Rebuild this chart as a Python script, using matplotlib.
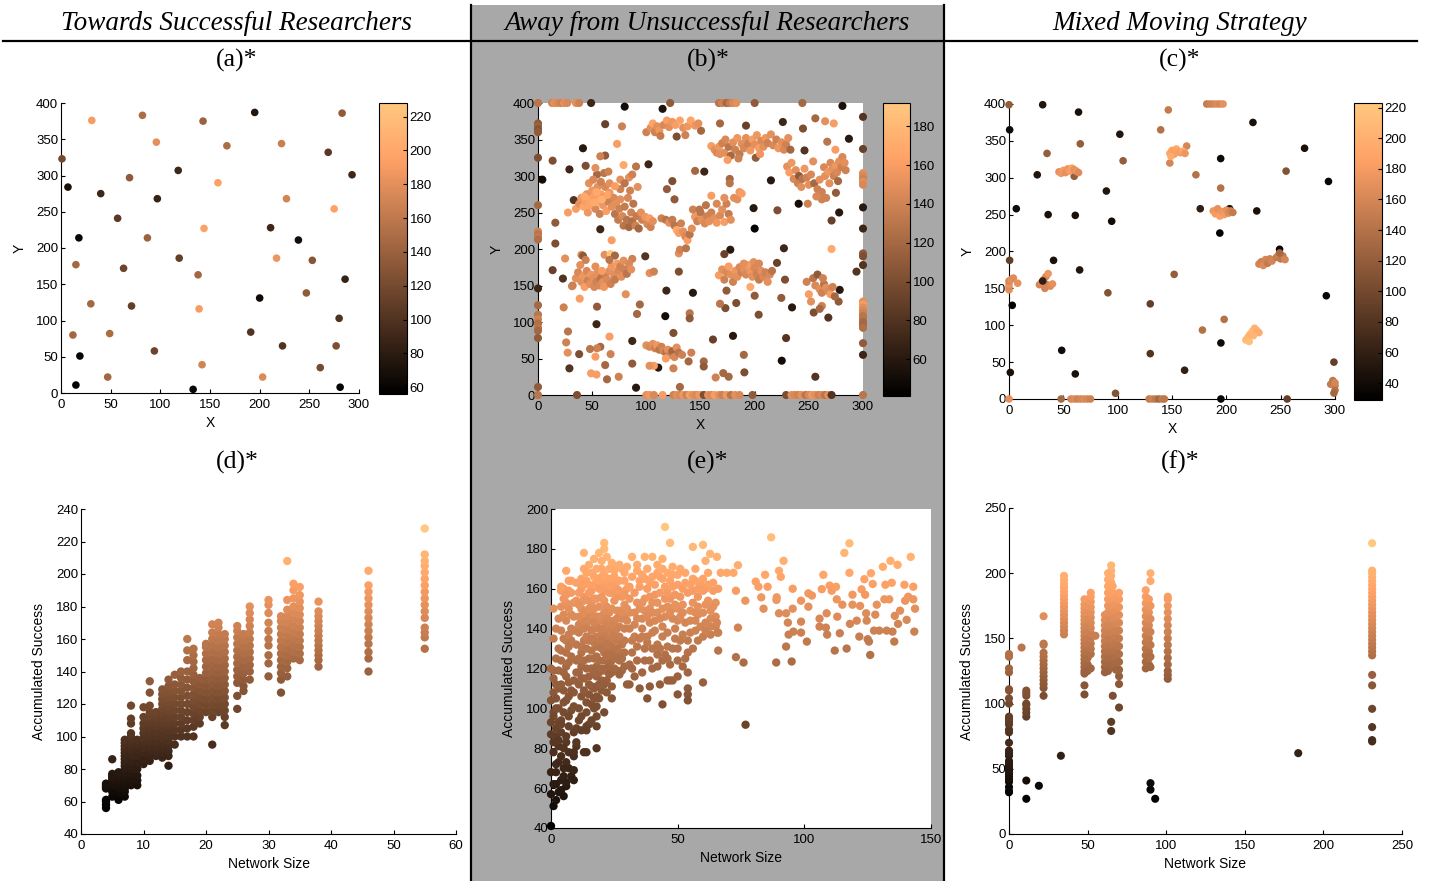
import matplotlib
matplotlib.use('Agg')
import matplotlib.pyplot as plt
from matplotlib.patches import Rectangle
from matplotlib.lines import Line2D

W, H = 1430, 881
GRAY = '#a8a8a8'

column_titles = ['Towards Successful Researchers',
                 'Away from Unsuccessful Researchers',
                 'Mixed Moving Strategy']
panel_titles = ['(a)*', '(b)*', '(c)*', '(d)*', '(e)*', '(f)*']

# ---------------- (a) positions: (x, y, accumulated success) ----------------
a_points = [(31, 376, 190), (82, 383, 150), (143, 375, 140), (195, 387, 75), (283, 386, 135),
            (96, 346, 180), (167, 341, 150), (222, 344, 165), (269, 332, 105), (1, 323, 120),
            (118, 307, 90), (293, 301, 90), (69, 297, 135), (158, 290, 195), (7, 284, 70),
            (40, 275, 90), (97, 268, 85), (227, 268, 170), (275, 254, 195), (57, 241, 105),
            (144, 227, 195), (211, 228, 90), (18, 214, 62), (87, 214, 140), (239, 211, 68),
            (119, 186, 110), (217, 186, 185), (15, 177, 145), (253, 183, 130), (63, 172, 115),
            (138, 163, 145), (286, 157, 85), (200, 131, 65), (247, 138, 135), (30, 123, 145),
            (71, 120, 110), (139, 116, 190), (280, 103, 100), (12, 80, 145), (49, 82, 150),
            (191, 84, 100), (19, 51, 62), (94, 58, 115), (223, 65, 100), (277, 65, 125),
            (142, 39, 170), (261, 35, 120), (47, 22, 145), (203, 22, 175), (15, 11, 60),
            (133, 5, 62), (281, 8, 60)]

# ---------------- (b) positions: (x, y, accumulated success) ----------------
b_left_edge = [(0, 400, 130), (0, 372, 110), (0, 368, 115), (0, 364, 105), (0, 360, 110),
               (0, 325, 100), (0, 260, 120), (0, 224, 140), (0, 220, 130), (0, 216, 135),
               (0, 213, 125), (0, 146, 70), (0, 123, 120), (0, 110, 130), (0, 104, 140),
               (0, 98, 125), (0, 92, 130), (0, 88, 120), (0, 78, 110), (0, 11, 110), (0, 0, 130)]
b_top_edge = [(13, 400, 140), (15, 400, 150), (18, 400, 145), (21, 400, 140), (24, 400, 150),
              (27, 400, 145), (35, 400, 150), (38, 400, 140), (49, 400, 70), (122, 400, 110),
              (167, 400, 130), (170, 400, 140), (174, 400, 120), (177, 400, 135), (180, 400, 145),
              (183, 400, 150), (200, 400, 110), (244, 400, 120), (80, 395, 50), (115, 392, 55),
              (281, 396, 55)]
b_right_edge = [(300, 381, 80), (300, 337, 90), (300, 304, 150), (300, 300, 145), (300, 296, 140),
                (300, 292, 150), (300, 288, 145), (300, 257, 60), (300, 228, 70), (300, 194, 110),
                (300, 190, 100), (300, 178, 80), (300, 128, 150), (300, 124, 160), (300, 120, 150),
                (300, 116, 145), (300, 112, 140), (300, 108, 130), (300, 104, 130), (300, 100, 120),
                (300, 96, 120), (300, 92, 125), (300, 71, 110), (300, 55, 70), (300, 0, 130)]
b_bottom_edge = [(36, 0, 100), (100, 0, 150), (103, 0, 155), (107, 0, 145), (115, 0, 160),
                 (125, 0, 140), (128, 0, 150), (131, 0, 145), (134, 0, 155), (137, 0, 140),
                 (140, 0, 160), (143, 0, 150), (146, 0, 145), (149, 0, 155), (153, 0, 100),
                 (157, 0, 150), (160, 0, 145), (163, 0, 160), (167, 0, 150), (170, 0, 140),
                 (174, 0, 155), (178, 0, 130), (182, 0, 150), (186, 0, 145), (198, 0, 110),
                 (229, 0, 100), (234, 0, 150), (237, 0, 145), (240, 0, 140), (243, 0, 150),
                 (247, 0, 130), (250, 0, 145), (253, 0, 155), (256, 0, 150), (259, 0, 140),
                 (262, 0, 145), (265, 0, 130), (268, 0, 150), (271, 0, 80)]
b_scattered = [(13.5, 321, 100), (4, 295, 50), (29, 309, 70), (41.5, 338, 60), (44, 314, 100),
               (62, 328, 110), (62, 371, 90), (73, 344, 160), (77.5, 368, 140), (90.5, 313, 130),
               (102, 316, 70), (124, 293, 100), (128, 354, 100), (126, 268, 110), (145, 307, 120),
               (153.5, 306, 70), (150.5, 362, 120), (168, 372, 120), (192, 369, 90), (226, 374, 70),
               (244.6, 365, 100), (246, 335, 80), (256, 379, 120), (265, 375, 150), (273, 372, 160),
               (267, 347, 130), (274.5, 336, 160), (287, 351, 60), (278, 250, 60), (271, 239, 90),
               (275, 277, 110), (240.6, 262, 50), (249, 262, 140), (215, 294, 60), (221, 253, 100),
               (199, 256, 60), (200, 228, 45), (177.5, 199, 60), (172, 193, 90), (227, 201, 70),
               (220.6, 181, 90), (271, 200, 170), (294, 169, 80), (278.5, 144, 60), (268, 106, 80),
               (277.5, 128, 110), (254.5, 113, 100), (234.5, 120, 60), (224.6, 133, 110),
               (228, 158, 100), (203.7, 110, 100), (200, 136, 110), (183, 126, 100), (173, 119, 100),
               (168, 125, 130), (174, 143, 110), (229, 78, 80), (225, 47, 50), (256, 25, 80),
               (180, 81, 60), (161.5, 76, 90), (190, 55, 120), (190.5, 31, 100), (171, 30, 120),
               (176, 25, 120), (164, 24, 140), (153, 46, 120), (153, 39, 110), (141.5, 58, 140),
               (139, 46, 120), (143, 140, 60), (140, 112, 130), (140, 105, 110), (130, 169, 100),
               (130, 194, 150), (131, 199, 140), (136.6, 201, 130), (118.5, 143, 70), (117.5, 108, 50),
               (125, 85, 100), (131, 11, 120), (111, 37.5, 60), (107, 40, 160), (125, 36.5, 140),
               (99, 190, 80), (103, 167, 150), (107, 169, 140), (94, 124, 120), (91.4, 111, 120),
               (87, 74, 70), (87, 43, 110), (90.5, 10, 60), (74.5, 25, 140), (63.7, 21.5, 120),
               (62, 41, 120), (67, 56, 140), (66, 80, 160), (57.5, 66, 120), (54.5, 64, 140),
               (53, 52.5, 160), (48, 63, 130), (49, 29.7, 160), (54, 28, 160), (38, 56, 100),
               (27.4, 58, 150), (26, 72, 140), (27.7, 87, 130), (29, 36.5, 80), (54.5, 121, 110),
               (54, 97, 70), (38.5, 132, 160), (23.7, 120, 140), (31.4, 149, 140), (23, 159.5, 80),
               (25, 187, 150), (13.5, 171, 90), (16, 236, 110), (16, 207.5, 100), (57.5, 227, 70),
               (68, 212, 160), (61.5, 192, 150), (67, 193, 190), (71, 191, 120), (40, 192, 150),
               (41.5, 190.6, 110), (81, 138, 150), (87, 186.5, 140), (27.7, 250, 160), (33, 267, 80),
               (57.5, 327, 140), (54.5, 302, 120), (53, 311, 150), (61, 304, 130), (79, 315, 170),
               (84, 298, 150), (87, 302, 140), (76, 295, 150), (65, 306, 140)]
b_cluster_upper_left = [(35, 255, 160), (38, 262, 150), (40, 270, 155), (42, 258, 165), (44, 265, 160),
                        (45, 275, 150), (46, 250, 155), (48, 268, 165), (50, 260, 150), (50, 280, 155),
                        (52, 272, 160), (53, 255, 145), (55, 285, 150), (56, 265, 165), (57, 248, 140),
                        (58, 275, 160), (60, 260, 155), (61, 270, 150), (62, 285, 145), (63, 252, 160),
                        (65, 265, 140), (66, 277, 155), (68, 258, 150), (70, 270, 145), (71, 248, 130),
                        (72, 262, 150), (74, 240, 135), (75, 255, 140), (76, 268, 150), (78, 245, 145),
                        (79, 232, 130), (80, 258, 135), (82, 240, 130), (83, 270, 145), (84, 230, 120),
                        (86, 250, 140), (87, 238, 125), (88, 262, 130), (90, 232, 140), (91, 245, 135),
                        (93, 228, 120), (95, 250, 150), (96, 240, 140), (99, 244, 155), (101, 234, 145),
                        (103, 242, 160), (104, 230, 140), (106, 238, 150), (47, 290, 150), (51, 295, 145),
                        (58, 292, 140), (66, 290, 150), (76, 282, 140), (80, 290, 130), (85, 280, 140),
                        (92, 285, 150), (71, 286, 160), (43, 272, 170), (47, 260, 165), (54, 278, 170),
                        (59, 268, 175), (64, 274, 165), (52, 264, 170)]
b_cluster_mid_left = [(32, 150, 140), (35, 160, 150), (37, 168, 145), (40, 155, 150), (42, 163, 155),
                      (43, 148, 160), (45, 170, 145), (46, 157, 140), (48, 152, 150), (49, 165, 155),
                      (51, 160, 150), (52, 148, 145), (54, 155, 140), (55, 168, 150), (57, 150, 145),
                      (58, 160, 130), (60, 155, 150), (61, 148, 155), (62, 164, 140), (64, 158, 145),
                      (66, 170, 150), (67, 152, 140), (68, 176, 155), (70, 165, 150), (71, 158, 135),
                      (73, 180, 160), (74, 170, 145), (76, 176, 140), (77, 162, 150), (79, 184, 150),
                      (80, 172, 140), (82, 166, 130), (84, 180, 145), (86, 172, 150), (39, 178, 150),
                      (44, 185, 140), (53, 176, 150), (59, 170, 160), (66, 185, 130)]
b_cluster_top = [(100, 360, 140), (104, 366, 150), (106, 372, 165), (108, 360, 140), (110, 368, 150),
                 (112, 362, 155), (116, 370, 145), (119, 376, 160), (121, 367, 150), (124, 374, 155),
                 (127, 370, 160), (131, 376, 165), (134, 366, 150), (138, 368, 155), (141, 376, 165),
                 (145, 369, 155), (148, 372, 150), (136, 356, 140), (113, 355, 135)]
b_cluster_arc = [(160, 341, 160), (163, 336, 150), (165, 332, 145), (167, 340, 155), (170, 345, 140),
                 (172, 332, 150), (173, 350, 145), (176, 340, 130), (178, 328, 120), (180, 346, 150),
                 (182, 336, 140), (184, 352, 155), (186, 330, 135), (188, 344, 150), (190, 338, 145),
                 (192, 352, 150), (194, 344, 140), (196, 335, 155), (198, 350, 160), (200, 343, 150),
                 (202, 356, 155), (204, 338, 160), (206, 348, 145), (208, 340, 150), (210, 352, 155),
                 (212, 345, 140), (215, 357, 150), (217, 342, 145), (220, 350, 140), (222, 338, 155),
                 (225, 346, 150), (227, 336, 145), (229, 343, 140), (231, 352, 150), (233, 336, 120),
                 (201, 325, 110), (205, 330, 155), (185, 324, 140), (175, 322, 160), (168, 330, 150)]
b_cluster_right = [(230, 313, 150), (232, 305, 160), (234, 318, 155), (236, 296, 145), (238, 308, 150),
                   (240, 290, 140), (241, 300, 110), (243, 285, 150), (244, 296, 130), (246, 310, 155),
                   (248, 298, 140), (250, 288, 150), (252, 302, 145), (254, 320, 150), (255, 290, 120),
                   (258, 282, 140), (260, 295, 150), (262, 278, 140), (264, 312, 145), (265, 300, 150),
                   (266, 270, 140), (268, 306, 155), (269, 290, 150), (270, 318, 145), (272, 310, 150),
                   (273, 300, 140), (275, 314, 155), (276, 305, 145), (277, 293, 120), (278, 320, 150),
                   (280, 312, 140), (281, 326, 145), (283, 318, 150), (284, 308, 140), (262, 268, 140),
                   (257, 272, 145)]
b_band = [(114, 242, 140), (118, 240, 130), (121, 236, 150), (124, 240, 135), (126, 232, 130),
          (128, 226, 170), (130, 222, 160), (132, 235, 140), (134, 224, 150), (136, 217, 145),
          (138, 212, 160), (140, 220, 130), (142, 228, 150), (145, 244, 155), (147, 238, 140),
          (150, 250, 130), (151, 240, 150), (154, 235, 145), (156, 245, 140), (158, 238, 150),
          (160, 250, 140), (163, 242, 150), (165, 236, 155), (168, 246, 145), (170, 254, 150),
          (172, 237, 160), (174, 262, 140), (176, 248, 135), (178, 240, 150), (181, 270, 150),
          (184, 268, 150), (186, 278, 155), (188, 276, 160), (155, 260, 130), (160, 273, 160),
          (165, 262, 145), (172, 270, 150), (177, 296, 120), (177, 290, 130), (143, 254, 140),
          (149, 254, 130), (119, 282, 110)]
b_cluster_mid_right = [(167, 164, 160), (170, 172, 150), (172, 158, 140), (174, 168, 145), (176, 176, 160),
                       (178, 165, 150), (180, 155, 140), (182, 170, 155), (184, 162, 150), (186, 175, 145),
                       (188, 168, 140), (190, 172, 150), (192, 165, 145), (194, 178, 160), (196, 170, 155),
                       (198, 162, 150), (199, 182, 150), (200, 174, 145), (202, 166, 140), (204, 158, 135),
                       (206, 170, 150), (208, 162, 145), (210, 168, 140), (212, 155, 150), (214, 165, 145),
                       (216, 170, 130), (196, 148, 170), (190, 180, 150), (204, 180, 145)]
b_cluster_low_right = [(248, 155, 140), (250, 138, 160), (252, 128, 150), (254, 160, 130), (256, 150, 145),
                       (258, 165, 110), (260, 145, 150), (262, 140, 140), (264, 152, 130), (266, 147, 150),
                       (268, 142, 145), (270, 138, 160), (272, 148, 140), (274, 135, 120), (263, 160, 140),
                       (262, 122, 140), (260, 118, 120)]
b_cluster_bottom = [(100, 68, 150), (103, 66, 145), (106, 70, 150), (108, 64, 140), (110, 68, 155),
                    (112, 62, 130), (114, 66, 140), (116, 60, 145), (118, 58, 130), (120, 62, 150),
                    (122, 55, 140), (124, 60, 120), (126, 52, 145), (128, 65, 150), (130, 58, 130),
                    (133, 55, 140), (118, 50, 160), (103, 40, 150)]

# ---------------- (c) positions: (x, y, accumulated success) ----------------
c_singles = [(0.6, 365, 40), (31, 399, 50), (64, 389, 45), (146.6, 392, 150), (139.6, 365, 140),
             (102, 359, 50), (35, 333, 120), (65.6, 346, 120), (105, 323, 120), (163.5, 343, 160),
             (148, 320, 160), (194.8, 326, 40), (224.5, 375, 45), (272, 340, 45), (255, 309, 110),
             (294, 295, 35), (172, 304, 140), (26, 304, 50), (60, 302, 120), (89.6, 282, 50),
             (194.8, 286, 140), (6.7, 258, 40), (36, 250, 45), (61, 249, 45), (94.5, 241, 40),
             (176, 258, 60), (228, 255, 45), (194, 225, 30), (0.6, 188, 90), (41, 188, 45),
             (65, 175, 50), (152, 169, 120), (249, 203, 35), (91, 144, 110), (3, 127, 30),
             (130, 129, 90), (292, 140, 35), (198, 108, 140), (178, 93.5, 140), (195, 76, 40),
             (48.5, 66, 40), (130, 61.5, 80), (1.2, 36, 45), (61, 34, 45), (161.6, 39, 60),
             (98, 7.7, 110)]
c_clusters = [(148, 333, 190), (150, 337, 185), (152, 332, 180), (154, 339, 190), (156, 335, 185),
              (158, 334, 180), (160, 336, 190), (162, 333, 175), (149, 329, 195),
              (46, 308, 170), (48, 306, 175), (50, 310, 180), (52, 307, 170), (54, 312, 175),
              (56, 309, 180), (58, 313, 185), (60, 311, 170), (62, 309, 175), (64, 307, 165),
              (203, 258, 45), (188, 255, 175), (190, 251, 180), (192, 258, 170), (194, 248, 185),
              (196, 254, 175), (198, 250, 180), (200, 256, 170), (202, 252, 165), (204, 255, 160),
              (206, 253, 150), (230, 183, 160), (232, 186, 155), (234, 181, 165), (236, 189, 160),
              (238, 184, 150), (240, 190, 155), (242, 187, 160), (246, 192, 150), (248, 195, 155),
              (250, 190, 145), (252, 194, 150), (254, 189, 160), (249, 198, 130),
              (0, 148, 170), (0, 152, 165), (0, 156, 175), (0, 160, 160), (2, 162, 170),
              (4, 164, 165), (8, 157, 170), (28, 155, 160), (30, 158, 165), (32, 162, 170),
              (34, 166, 160), (36, 170, 175), (35, 155, 155), (38, 153, 165), (33, 150, 160),
              (40, 156, 170), (31, 160, 60), (218, 80, 210), (220, 84, 205), (222, 88, 200),
              (224, 92, 210), (226, 96, 205), (228, 93, 200), (230, 90, 195), (221, 78, 215),
              (225, 86, 205)]
c_edges = [(0, 0, 170), (48, 0, 130), (57, 0, 160), (60, 0, 165), (63, 0, 155), (66, 0, 160),
           (69, 0, 165), (72, 0, 160), (75, 0, 155), (129, 0, 150), (132, 0, 155), (135, 0, 145),
           (138, 0, 130), (141, 0, 150), (143, 0, 145), (195, 0, 35), (256, 0, 90),
           (0, 399, 120), (182, 400, 150), (185, 400, 155), (188, 400, 160), (191, 400, 165),
           (194, 400, 160), (197, 400, 170), (299, 50, 90), (296, 20, 150), (298, 25, 145),
           (300, 18, 155), (300, 12, 140), (299, 8, 130), (300, 22, 160)]

# ---------------- (d) network size vs accumulated success ----------------
d_sizes = [4, 5, 6, 7, 8, 9, 10, 11, 12, 13, 14, 15, 16, 17, 18, 19, 20, 21, 22, 23,
           25, 26, 27, 30, 32, 33, 34, 35, 38, 46, 55]
d_success = [
    [56, 58, 60, 61, 68, 69, 70, 71],
    [63, 66, 70, 72, 74, 75, 76, 77, 86],
    [61, 65, 68, 70, 72, 74, 76, 78],
    [63, 66, 68, 70, 72, 74, 76, 78, 80, 82, 84, 86, 88, 90, 92, 94, 96, 98],
    [70, 72, 74, 77, 80, 82, 85, 88, 90, 92, 94, 96, 98, 100, 102, 108, 111, 119],
    [70, 73, 76, 80, 84, 88, 92, 95, 98],
    [83, 86, 90, 93, 96, 99, 102, 105, 108, 112, 118],
    [85, 88, 91, 94, 97, 100, 103, 106, 109, 112, 115, 119, 127, 134],
    [88, 91, 94, 97, 100, 103, 106, 109, 112, 115],
    [87, 90, 93, 96, 99, 102, 105, 108, 111, 114, 117, 120, 123, 126, 129],
    [82, 88, 91, 94, 97, 100, 103, 106, 109, 112, 115, 118, 121, 124, 127, 131, 135],
    [95, 100, 104, 108, 112, 116, 120, 124, 128, 132, 138],
    [100, 104, 108, 112, 116, 120, 124, 128, 132, 136, 140],
    [100, 105, 110, 115, 120, 125, 130, 135, 140, 147, 153, 160],
    [100, 106, 110, 114, 118, 122, 126, 130, 134, 138, 142, 146, 150, 154],
    [108, 112, 116, 120, 124, 128, 132, 136],
    [115, 119, 123, 127, 131, 135, 139, 143, 147, 151, 155, 157],
    [95, 112, 116, 120, 124, 128, 132, 136, 140, 144, 148, 152, 156, 160, 164, 169],
    [115, 119, 123, 127, 131, 135, 139, 143, 147, 151, 155, 159, 163, 167, 170],
    [107, 112, 116, 120, 124, 128, 132, 136, 140, 144, 148, 152, 156, 160, 163],
    [117, 125, 133, 137, 141, 145, 149, 153, 157, 161, 165, 168],
    [128, 131, 135, 139, 143, 147, 151, 155, 159, 163],
    [135, 140, 144, 148, 152, 156, 160, 164, 168, 172, 176, 180],
    [137, 145, 150, 156, 160, 165, 170, 176, 181, 184],
    [127, 135, 139, 143, 147, 151, 155, 159, 163, 167, 171, 174],
    [137, 142, 146, 150, 154, 158, 162, 166, 170, 174, 178, 184, 208],
    [148, 152, 156, 160, 164, 168, 172, 176, 180, 185, 190, 194],
    [147, 151, 155, 159, 163, 167, 171, 175, 179, 183, 187, 192],
    [143, 147, 150, 153, 156, 159, 162, 165, 168, 171, 174, 177, 183],
    [140, 148, 152, 157, 161, 165, 169, 173, 177, 181, 185, 189, 193, 202],
    [154, 161, 164, 167, 173, 177, 181, 185, 189, 193, 197, 201, 205, 208, 212, 228],
]

# ---------------- (e) network size vs accumulated success: (size, success) ----------------
e_small = [(0, 41), (1, 51), (2, 54), (0, 57), (3, 58), (2, 62), (0, 68), (2, 68), (4, 64), (3, 73),
           (1, 78), (3, 81), (2, 86), (4, 88), (0, 87), (3, 93), (4, 94), (1, 98), (3, 100), (1, 108),
           (3, 110), (1, 115), (3, 119), (1, 119), (1, 150), (5, 56), (6, 61), (8, 66), (9, 69),
           (7, 70), (6, 73), (7, 78), (6, 83), (9, 88), (10, 81), (9, 76), (7, 91), (5, 98), (8, 99),
           (6, 104), (8, 109), (6, 116), (9, 114), (6, 121), (8, 126), (4, 129), (6, 134), (4, 139),
           (8, 140), (6, 144), (8, 147), (4, 151), (9, 153), (4, 159), (8, 158), (6, 169), (10, 163),
           (5, 160), (9, 101), (10, 90), (10, 83), (9, 108), (10, 118), (10, 124), (10, 132),
           (9, 146), (10, 139), (9, 78), (9, 64), (6, 63), (4, 59), (8, 164), (4, 161), (7, 159),
           (9, 139), (8, 134), (10, 154), (2, 125), (1, 96), (2, 105), (3, 84), (5, 109), (7, 96),
           (1, 62), (2, 72), (1, 83), (2, 90), (0, 93), (2, 100), (0, 104), (2, 112), (0, 120),
           (3, 130), (1, 135), (2, 140), (3, 145), (5, 66), (5, 70), (4, 76), (5, 80), (6, 86),
           (4, 92), (5, 103), (7, 106), (4, 112), (7, 113), (5, 118), (7, 123), (4, 124), (6, 128),
           (7, 131), (5, 135), (7, 137), (5, 147), (7, 150), (6, 153), (5, 155), (6, 157), (7, 164)]
e_core = [(12, 89), (13, 78), (14, 91), (14, 98), (14, 103), (12, 106), (12, 121), (12, 128), (13, 134),
          (11, 138), (14, 141), (12, 144), (14, 148), (12, 150), (15, 154), (13, 156), (14, 168),
          (16, 168), (18, 165), (18, 170), (20, 174), (21, 183), (21, 180), (23, 170), (25, 169),
          (18, 146), (18, 141), (18, 136), (18, 131), (18, 126), (18, 121), (18, 116), (18, 111),
          (18, 106), (18, 101), (18, 96), (18, 91), (18, 80), (15, 92), (14, 89), (14, 78), (21, 159),
          (23, 158), (21, 154), (22, 151), (25, 154), (26, 149), (23, 148), (21, 148), (20, 144),
          (23, 144), (25, 144), (27, 141), (22, 139), (25, 138), (20, 137), (23, 134), (26, 134),
          (28, 132), (21, 131), (23, 129), (27, 128), (21, 124), (24, 124), (27, 124), (21, 119),
          (24, 118), (22, 114), (24, 111), (22, 108), (24, 105), (21, 98), (26, 119), (28, 119),
          (29, 128), (29, 134), (29, 140), (29, 146), (27, 149), (28, 156), (26, 156), (25, 163),
          (22, 163), (20, 161), (16, 159), (16, 153), (16, 148), (16, 144), (16, 139), (15, 134),
          (16, 129), (15, 125), (16, 120), (15, 116), (16, 111), (15, 107), (16, 102), (16, 94),
          (20, 166), (19, 151), (29, 164), (30, 160), (27, 164), (26, 171), (13, 148), (13, 154),
          (19, 131), (19, 124), (19, 118), (20, 109), (13, 178), (14, 164), (17, 150), (19, 140),
          (21, 128), (24, 131), (26, 140), (20, 156), (17, 162), (24, 150), (22, 145), (18, 155),
          (25, 160), (27, 136), (17, 133), (23, 122), (20, 114), (17, 118),
          (11, 94), (11, 100), (12, 96), (11, 112), (13, 115), (11, 118), (13, 124), (12, 131),
          (11, 142), (13, 140), (12, 160), (11, 152), (14, 130), (15, 145), (17, 140), (17, 146),
          (17, 125), (17, 110), (17, 100), (19, 105), (20, 120), (20, 130), (22, 126), (22, 120),
          (21, 136), (23, 140), (24, 136), (25, 128), (26, 130), (27, 146), (28, 145), (24, 158),
          (26, 160), (23, 165), (19, 160), (17, 155), (15, 162), (20, 170), (28, 170),
          (12, 165), (13, 170), (15, 172), (17, 175), (19, 178), (22, 176), (24, 173), (27, 172),
          (29, 168), (11, 158), (13, 162), (15, 158), (17, 166), (19, 164), (21, 167), (23, 161),
          (25, 166), (27, 159), (29, 152), (28, 148), (26, 145), (24, 142), (22, 142), (20, 140),
          (19, 146), (17, 143), (15, 150), (13, 144), (11, 146), (14, 136), (16, 135), (20, 134),
          (22, 132), (24, 127), (26, 125), (28, 125), (29, 121), (27, 117), (25, 120), (23, 117),
          (21, 112), (19, 112), (17, 105), (15, 112), (13, 109), (11, 125), (14, 120), (12, 115)]
e_mid = [(32, 176), (30, 171), (37, 176), (40, 176), (44, 175), (45, 191), (47, 183), (56, 181),
         (60, 182), (48, 171), (51, 170), (38, 170), (34, 169), (42, 168), (43, 166), (32, 166),
         (31, 161), (29, 157), (35, 161), (38, 160), (41, 162), (41, 157), (44, 165), (45, 161),
         (47, 164), (48, 161), (50, 162), (52, 160), (54, 158), (56, 159), (58, 156), (60, 159),
         (62, 154), (64, 159), (65, 153), (47, 155), (46, 151), (50, 150), (52, 148), (55, 149),
         (58, 147), (60, 148), (63, 149), (65, 146), (42, 148), (39, 150), (37, 149), (34, 153),
         (31, 148), (30, 144), (33, 142), (36, 140), (39, 143), (41, 139), (44, 141), (46, 138),
         (49, 140), (52, 137), (55, 138), (58, 134), (60, 136), (63, 141), (66, 138), (54, 134),
         (54, 128), (50, 130), (46, 131), (42, 132), (38, 133), (34, 131), (32, 134), (31, 122),
         (34, 124), (37, 124), (39, 124), (42, 121), (44, 124), (47, 122), (50, 124), (52, 121),
         (54, 118), (47, 114), (48, 114), (46, 114), (31, 112), (30, 112), (35, 110), (38, 105),
         (39, 111), (43, 112), (44, 102), (50, 107), (54, 110), (54, 107), (54, 104), (60, 113),
         (50, 116), (43, 130), (38, 136), (66, 129), (60, 165), (62, 168), (64, 163), (66, 160),
         (35, 164), (33, 158), (53, 168), (57, 170), (61, 174), (46, 168), (49, 157), (36, 145),
         (40, 138), (45, 146), (57, 144), (61, 152), (63, 145),
         (30, 150), (31, 140), (32, 128), (33, 136), (35, 135), (37, 130), (40, 130), (35, 150),
         (37, 155), (39, 156), (42, 153), (44, 150), (48, 145), (50, 144), (52, 152), (56, 153),
         (58, 151), (59, 162), (61, 160), (56, 165), (50, 167), (44, 170), (40, 166), (36, 167),
         (49, 135), (57, 139), (61, 143), (63, 137), (53, 125), (45, 127), (40, 120), (36, 118),
         (33, 116), (32, 120),
         (31, 155), (33, 148), (34, 145), (36, 153), (38, 146), (40, 148), (41, 144), (43, 145),
         (45, 155), (46, 158), (48, 150), (49, 152), (51, 146), (53, 143), (55, 144), (57, 148),
         (59, 141), (61, 139), (65, 141), (64, 151), (62, 162), (58, 160), (55, 162), (51, 156),
         (47, 148), (43, 158), (39, 163), (37, 165), (34, 172), (42, 172), (48, 167), (53, 163),
         (57, 164), (40, 153), (36, 136), (42, 127), (46, 125), (51, 134), (56, 130), (44, 136),
         (48, 130)]
e_large = [(67, 168), (69.4, 168), (72, 168), (73.8, 171.8), (65.5, 176), (62.8, 177.5), (73, 159),
           (76.7, 154), (65.5, 143), (73.8, 140.5), (65.7, 138), (73, 125.7), (76, 123), (76.8, 91.8),
           (80.8, 163.6), (81.9, 161), (83, 155.7), (83.9, 150), (84.5, 167), (85.5, 161), (86.9, 185.8),
           (88.9, 123), (89, 154.4), (89.1, 155.7), (90, 147.7), (90.7, 166), (91.8, 174), (90, 169),
           (92.8, 147.7), (92.8, 131), (93.5, 143), (93.8, 137), (95, 123.5), (95.4, 160), (95.4, 150),
           (95.7, 138.5), (98.7, 138), (98.7, 143.5), (98.7, 154), (101, 133.5), (101.6, 151),
           (101.6, 157.7), (103, 156.6), (106.9, 159.8), (106, 145), (106, 141), (107.5, 167),
           (108.5, 140.5), (108.8, 147.7), (109, 137), (110, 161.6), (110.8, 159), (112, 129),
           (112.5, 161), (112.8, 154.7), (113, 146), (114, 137.7), (115, 152), (115.8, 178),
           (116.7, 130), (117.8, 182.8), (117.8, 168), (118, 142.4), (119, 157), (119, 152),
           (120.7, 144), (121.7, 136), (122, 151.4), (122.6, 159.7), (123.7, 164.8), (124, 157),
           (124.4, 147.7), (124.6, 144), (125, 134.7), (125.5, 133.5), (126, 126.8), (126.3, 167.8),
           (127, 162.4), (127.5, 139), (128, 147), (128.6, 152), (129.6, 139), (131, 171),
           (131.6, 154.7), (132, 162), (132.5, 139), (133.5, 154.7), (134, 174), (134.5, 163),
           (134.8, 138.5), (135.5, 133.5), (135.7, 146.4), (136.8, 172), (137, 142.4), (137.8, 149),
           (139.5, 162), (139.8, 154), (140.4, 144.4), (141, 156), (142, 176), (143, 161),
           (143.4, 138.5), (143.7, 150), (143, 154.7)]

# ---------------- (f) network size vs accumulated success ----------------
f_sizes = [0, 8, 11, 19, 22, 33, 35, 48, 50, 52, 55, 61, 63, 65, 66, 68, 70, 87, 89, 90, 93, 101, 184, 231]
f_success = [
    [32, 33, 36, 40, 42, 44, 46, 48, 50, 52, 54, 56, 60, 62, 64, 70, 78, 80, 84, 86, 88, 90,
     100, 104, 110, 111, 124, 127, 136, 138],
    [143],
    [27, 41, 90, 93, 96, 99, 100, 106, 108, 110],
    [37],
    [106, 112, 115, 118, 121, 124, 127, 130, 133, 136, 139, 145, 146, 167],
    [60],
    [153, 156, 159, 162, 165, 168, 171, 174, 177, 180, 183, 186, 189, 192, 195, 198],
    [107, 114, 123, 125, 128, 131, 134, 137, 140, 143, 146, 149, 152, 155, 158, 161, 164, 167,
     170, 173, 176, 180],
    [125, 130, 135, 140, 145, 150, 155, 160, 165, 170, 175],
    [127, 138, 142, 146, 150, 154, 158, 162, 166, 170, 174, 178, 182, 185],
    [152],
    [124, 128, 132, 136, 140, 144, 148, 152, 156, 160, 164, 168],
    [125, 130, 135, 140, 145, 150, 155, 160, 165, 170, 175, 180, 185, 190, 195, 200],
    [79, 86, 128, 133, 138, 143, 148, 153, 158, 163, 168, 173, 178, 183, 188, 193, 198, 202, 206],
    [106, 130, 135, 140, 145, 150, 155, 160, 165, 170, 175, 180, 185, 190],
    [126, 131, 136, 141, 146, 151, 156, 161, 166, 171, 176, 181],
    [97, 115, 121, 126, 132, 138, 144, 150, 156, 162, 168, 174, 180, 185],
    [127, 132, 137, 142, 147, 152, 157, 162, 167, 172, 177, 182, 187],
    [130, 135, 140, 145, 150, 155, 160, 165, 170, 175, 180],
    [34, 39, 128, 136, 145, 155, 165, 175, 194, 200],
    [27],
    [119, 122, 125, 130, 135, 140, 145, 150, 155, 160, 165, 170, 175, 180, 182],
    [62],
    [71, 72, 82, 96, 114, 122, 137, 140, 143, 146, 149, 152, 155, 158, 161, 164, 167, 170, 173,
     176, 179, 182, 185, 188, 191, 194, 197, 200, 202, 223],
]

# colour limits of the three colorbars
clim_towards = (56, 228)
clim_away = (41, 192)
clim_mixed = (29, 223)

plt.rcParams['font.family'] = ['Liberation Sans', 'DejaVu Sans']
SERIF = ['Liberation Serif', 'DejaVu Serif']

fig = plt.figure(figsize=(W / 100, H / 100), dpi=100)
fig.patch.set_facecolor('white')


def rect(left, top, right, bottom):
    return [left / W, 1 - bottom / H, (right - left) / W, (bottom - top) / H]


def fx(x):
    return x / W


def fy(y):
    return 1 - y / H


# background of middle column and separating lines
fig.add_artist(Rectangle((fx(471), 0), fx(944) - fx(471), fy(5), transform=fig.transFigure,
                         facecolor=GRAY, edgecolor='none', zorder=-10))
fig.add_artist(Line2D([fx(3), fx(1417)], [fy(41), fy(41)], color='black', lw=1.6))
for xv in (471, 944):
    fig.add_artist(Line2D([fx(xv), fx(xv)], [0, fy(5)], color='black', lw=1.6))

for title, xc in zip(column_titles, (236, 707, 1180)):
    fig.text(fx(xc), fy(29.5), title, ha='center', va='baseline', fontsize=19.5,
             style='italic', family=SERIF)


def unpack(*groups):
    pts = [p for g in groups for p in g]
    return [p[0] for p in pts], [p[1] for p in pts], [p[2] for p in pts]


def columns(sizes, success):
    xs, ys = [], []
    for s, vals in zip(sizes, success):
        xs += [s] * len(vals)
        ys += vals
    return xs, ys


def style(ax, xlim, ylim, xticks, yticks, xlabel, ylabel, white=False):
    ax.set_xlim(*xlim)
    ax.set_ylim(*ylim)
    ax.set_xticks(xticks)
    ax.set_yticks(yticks)
    ax.spines['top'].set_visible(False)
    ax.spines['right'].set_visible(False)
    for sp in ('left', 'bottom'):
        ax.spines[sp].set_linewidth(0.8)
        ax.spines[sp].set_zorder(2)
    ax.tick_params(direction='in', length=3, width=0.8, labelsize=9.5)
    ax.tick_params(axis='x', pad=4)
    ax.tick_params(axis='y', pad=2)
    ax.set_xlabel(xlabel, fontsize=10, labelpad=4)
    ax.set_ylabel(ylabel, fontsize=10, labelpad=7)
    ax.set_facecolor('white' if white else 'none')


def colorbar(sc, box, ticks):
    cax = fig.add_axes(rect(*box))
    cb = fig.colorbar(sc, cax=cax, ticks=ticks)
    cb.outline.set_linewidth(0.8)
    cax.tick_params(direction='in', length=3, width=0.8, labelsize=9.5, pad=2)
    return cb


def dots(ax, xs, ys, cs, clim, s):
    return ax.scatter(xs, ys, c=cs, cmap='copper', vmin=clim[0], vmax=clim[1], s=s,
                      edgecolors='none', clip_on=False, zorder=3)


xy_ticks = dict(xlim=(0, 300), ylim=(0, 400), xticks=range(0, 301, 50), yticks=range(0, 401, 50))

# (a)
ax = fig.add_axes(rect(61, 103, 359, 393))
sc = dots(ax, *unpack(a_points), clim_towards, 30)
style(ax, xlabel='X', ylabel='Y', **xy_ticks)
colorbar(sc, (379, 103, 407, 394), range(60, 221, 20))

# (b)
ax = fig.add_axes(rect(538, 103, 863, 395))
sc = dots(ax, *unpack(b_left_edge, b_top_edge, b_right_edge, b_bottom_edge, b_scattered,
                      b_cluster_upper_left, b_cluster_mid_left, b_cluster_top, b_cluster_arc,
                      b_cluster_right, b_band, b_cluster_mid_right, b_cluster_low_right,
                      b_cluster_bottom), clim_away, 34)
style(ax, xlabel='X', ylabel='Y', white=True, **xy_ticks)
colorbar(sc, (883, 103, 910, 396), range(60, 181, 20))

# (c)
ax = fig.add_axes(rect(1009, 104, 1335, 399))
sc = dots(ax, *unpack(c_singles, c_clusters, c_edges), clim_mixed, 30)
style(ax, xlabel='X', ylabel='Y', **xy_ticks)
colorbar(sc, (1354, 103, 1382, 400), range(40, 221, 20))

# (d)
ax = fig.add_axes(rect(81, 509, 456, 834))
dx, dy = columns(d_sizes, d_success)
dots(ax, dx, dy, dy, clim_towards, 36)
style(ax, (0, 60), (40, 240), range(0, 61, 10), range(40, 241, 20),
      'Network Size', 'Accumulated Success')

# (e)
ax = fig.add_axes(rect(551, 509, 931, 828))
e_all = e_small + e_core + e_mid + e_large
ex = [p[0] for p in e_all]
ey = [p[1] for p in e_all]
dots(ax, ex, ey, ey, clim_away, 36)
style(ax, (0, 150), (40, 200), range(0, 151, 50), range(40, 201, 20),
      'Network Size', 'Accumulated Success', white=True)

# (f)
ax = fig.add_axes(rect(1009, 508, 1402, 834))
fxs, fys = columns(f_sizes, f_success)
dots(ax, fxs, fys, fys, clim_mixed, 34)
style(ax, (0, 250), (0, 250), range(0, 251, 50), range(0, 251, 50),
      'Network Size', 'Accumulated Success')

# panel letters
for label, (xc, yc) in zip(panel_titles, [(237, 60), (708, 60), (1180, 60),
                                          (237, 462), (708, 462), (1180, 462)]):
    fig.text(fx(xc), fy(yc), label, ha='center', va='center', fontsize=18.5, family=SERIF)

fig.savefig('out.png', dpi=100)
